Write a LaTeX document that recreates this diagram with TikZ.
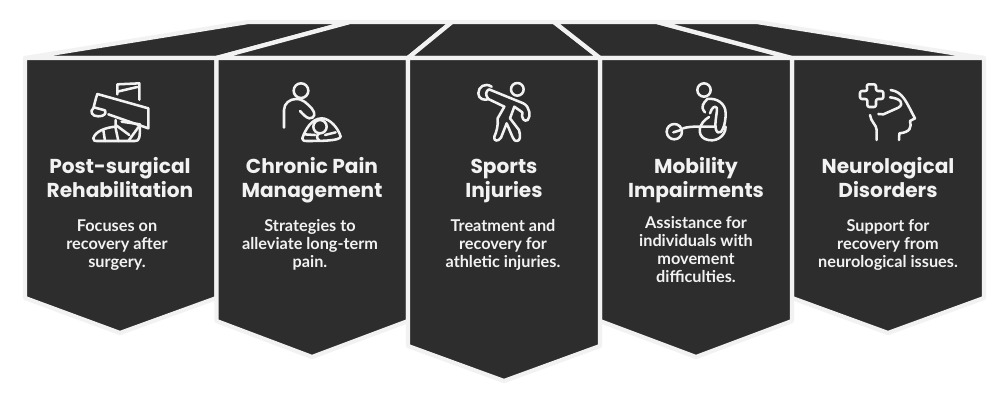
\documentclass[tikz,border=0pt]{standalone}
\usepackage{fontspec}
\setmainfont{Poppins}
\newfontfamily\bodyfont{Lato}
\definecolor{panel}{HTML}{2D2D2D}
\definecolor{rim}{HTML}{F2F2F2}
\tikzset{
  x=0.75pt,y=-0.75pt,
  panelshape/.style={fill=panel,draw=rim,line width=3.2pt,line join=round,line cap=round},
  titletext/.style={text=rim,font=\fontsize{15.1}{18}\selectfont\bfseries,align=center,inner sep=0pt},
  bodytext/.style={text=rim,font=\bodyfont\fontsize{12.2}{13.5}\selectfont\bfseries,align=center,inner sep=0pt},
  icon/.style={draw=rim,line width=1.9pt,line cap=round,line join=round},
  iconbox/.style={x=0.25pt,y=-0.25pt},
}
\begin{document}
\begin{tikzpicture}
\useasboundingbox (0,0) rectangle (1007,400);
% roof panels
\path[panelshape] (25,58) -- (248,22) -- (350,22) -- (216.5,58) -- cycle;
\path[panelshape] (216.5,58) -- (350,22) -- (452,22) -- (408,58) -- cycle;
\path[panelshape] (408,58) -- (452,22) -- (554,22) -- (600,58) -- cycle;
\path[panelshape] (600,58) -- (554,22) -- (657,22) -- (792,58) -- cycle;
\path[panelshape] (792,58) -- (657,22) -- (757,22) -- (984,58) -- cycle;
% banners
\path[panelshape] (25,58) -- (216.5,58) -- (216.5,298) -- (120,333) -- (25,298) -- cycle;
\path[panelshape] (792,58) -- (984,58) -- (984,298) -- (888,333) -- (792,298) -- cycle;
\path[panelshape] (216.5,58) -- (408,58) -- (408,321) -- (312,357) -- (216.5,321) -- cycle;
\path[panelshape] (600,58) -- (792,58) -- (792,321) -- (696,357) -- (600,321) -- cycle;
\path[panelshape] (408,58) -- (600,58) -- (600,346) -- (504,381) -- (408,346) -- cycle;
% titles
\node[titletext] (t1) at (120,181) {\strut Post-surgical\\\strut Rehabilitation};
\node[titletext] (t2) at (312,181) {\strut Chronic Pain\\\strut Management};
\node[titletext] (t3) at (504,181) {\strut Sports\\\strut Injuries};
\node[titletext] (t4) at (696,181) {\strut Mobility\\\strut Impairments};
\node[titletext] (t5) at (888,181) {\strut Neurological\\\strut Disorders};
% descriptions
\node[bodytext] (b1) at (117,246) {\strut Focuses on\\\strut recovery after\\\strut surgery.};
\node[bodytext] (b2) at (310,246) {\strut Strategies to\\\strut alleviate long-term\\\strut pain.};
\node[bodytext] (b3) at (503,246) {\strut Treatment and\\\strut recovery for\\\strut athletic injuries.};
\node[bodytext] (b4) at (696,252) {\strut Assistance for\\\strut individuals with\\\strut movement\\\strut difficulties.};
\node[bodytext] (b5) at (888,246) {\strut Support for\\\strut recovery from\\\strut neurological issues.};
% icon 1
\begin{scope}[shift={(80,75)},iconbox]
\draw[icon] (112,58) -- (112,28) -- (178,25) -- (178,74);
\draw[icon] (112,50) -- (172,36);
\draw[icon] (52,57) -- (205,100) -- (205,160) -- (85,118);
\draw[icon] (52,57) .. controls (46,75) and (44,85) .. (40,100) .. controls (28,108) and (36,125) .. (55,124) .. controls (72,124) and (80,116) .. (75,106) -- (45,98);
\draw[icon] (105,155) .. controls (75,158) and (45,170) .. (40,190) .. controls (40,198) and (45,198) .. (50,198) -- (165,198) .. controls (178,198) and (180,190) .. (180,148) -- (125,140);
\draw[icon] (70,165) -- (75,198);
\draw[icon] (107,135) -- (107,160) -- (115,198);
\draw[icon] (180,150) -- (145,198);
\draw[icon] (110,152) -- (148,180);
\end{scope}
% icon 2
\begin{scope}[shift={(270,75)},iconbox]
\draw[icon] (93,47) circle[radius=22*0.25pt];
\draw[icon] (42,158) -- (42,105) .. controls (42,85) and (60,72) .. (78,72) .. controls (100,72) and (110,85) .. (125,100) .. controls (138,115) and (135,130) .. (118,130) .. controls (108,128) and (100,118) .. (90,108);
\draw[icon] (97,190) .. controls (105,165) and (125,130) .. (155,130) .. controls (180,130) and (205,160) .. (212,185) .. controls (210,198) and (150,198) .. (110,198) .. controls (100,198) and (97,195) .. (97,190) -- cycle;
\draw[icon] (150,155) circle[radius=20*0.25pt];
\draw[icon] (147,176) .. controls (138,182) and (140,190) .. (148,197);
\draw[icon] (102,178) -- (135,180);
\draw[icon] (165,180) -- (197,172);
\end{scope}
% icon 3
\begin{scope}[shift={(465,75)},iconbox]
\draw[icon] (157,43) circle[radius=19*0.25pt];
\draw[icon] (80,35) .. controls (60,22) and (40,35) .. (40,55) .. controls (40,72) and (58,78) .. (72,72);
\draw[icon] (72,43) -- (175,85) .. controls (195,95) and (198,125) .. (188,135) .. controls (178,142) and (168,130) .. (172,112) -- (148,95) -- (135,130) -- (162,165) .. controls (168,185) and (165,198) .. (155,198) .. controls (145,198) and (145,190) .. (125,145) -- (108,188) .. controls (100,200) and (85,200) .. (88,185) .. controls (95,170) and (100,150) .. (98,130) -- (118,95) -- (70,72) .. controls (60,60) and (62,48) .. (72,43);
\end{scope}
% icon 4
\begin{scope}[shift={(655,75)},iconbox]
\draw[icon] (147,45) circle[radius=20*0.25pt];
\draw[icon] (157,72) .. controls (185,68) and (212,85) .. (212,115) .. controls (212,150) and (200,180) .. (188,172) .. controls (172,160) and (190,105) .. (185,98) .. controls (178,90) and (170,100) .. (165,115);
\draw[icon] (157,72) .. controls (145,85) and (135,95) .. (150,112);
\draw[icon] (58,170) circle[radius=23*0.25pt];
\draw[icon] (55,172) -- (78,165);
\draw[icon] (84,160) .. controls (110,152) and (140,156) .. (178,155);
\draw[icon] (162,126) .. controls (130,145) and (125,180) .. (150,192) .. controls (180,205) and (212,185) .. (212,155);
\end{scope}
% icon 5
\begin{scope}[shift={(850,75)},iconbox]
\draw[icon,rounded corners=1.5pt] (50,28) -- (78,28) -- (78,48) -- (100,48) -- (100,72) -- (78,72) -- (78,96) -- (52,96) -- (52,72) -- (30,72) -- (30,48) -- (52,48) -- cycle;
\draw[icon] (122,45) .. controls (160,50) and (170,85) .. (195,130) -- (180,138) .. controls (185,155) and (182,172) .. (148,175) -- (147,195);
\draw[icon] (120,67) .. controls (150,70) and (165,85) .. (145,98) -- (100,118) -- (85,117);
\draw[icon] (60,120) .. controls (62,140) and (80,150) .. (80,165) -- (80,195);
\end{scope}
\end{tikzpicture}
\end{document}
